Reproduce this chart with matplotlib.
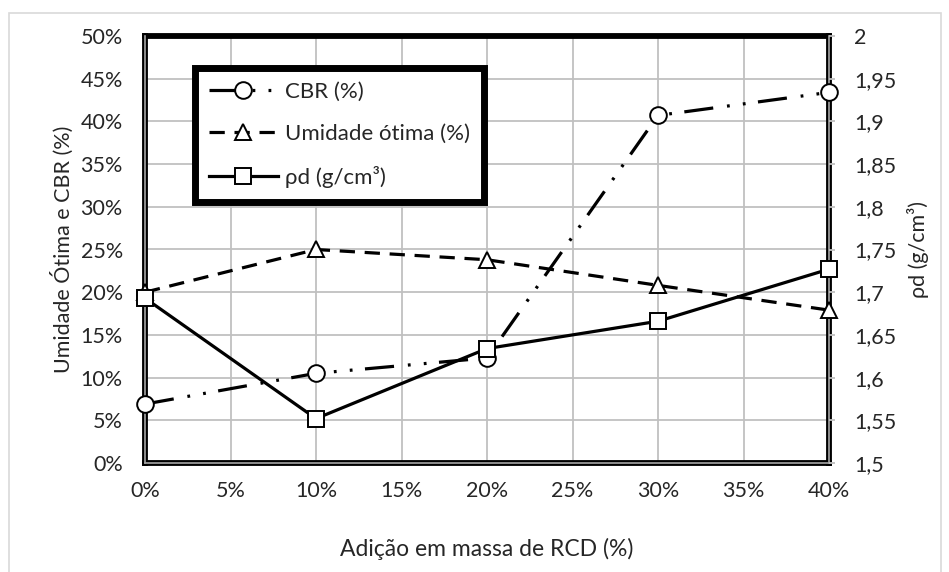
import matplotlib
matplotlib.use('Agg')
import matplotlib.pyplot as plt
from matplotlib.patches import Rectangle
from matplotlib.ticker import FuncFormatter, MultipleLocator

plt.rcParams['font.family'] = ['Lato', 'DejaVu Sans']
plt.rcParams['lines.scale_dashes'] = False

# data
rcd = [0, 10, 20, 30, 40]                       # % RCD added
cbr = [6.9, 10.5, 12.3, 40.7, 43.4]             # CBR (%)
umidade = [20.0, 25.0, 23.8, 20.8, 17.9]        # umidade otima (%)
rho_d = [1.693, 1.552, 1.634, 1.666, 1.727]     # g/cm3

fig = plt.figure(figsize=(9.49, 5.72), dpi=100)
W, H = 949, 572
ax = fig.add_axes([145 / W, 1 - 463 / H, 684 / W, 427 / H])
ax2 = ax.twinx()

# outer chart frame
fig.patches.append(Rectangle((9 / W, -0.05), 932 / W, 1 - 13 / H + 0.05,
                             transform=fig.transFigure, fill=False,
                             edgecolor='#d9d9d9', lw=1.2))

ax.set_xlim(0, 40)
ax.set_ylim(0, 50)
ax2.set_ylim(1.5, 2.0)
ax.xaxis.set_major_locator(MultipleLocator(5))
ax.yaxis.set_major_locator(MultipleLocator(5))
ax2.yaxis.set_major_locator(MultipleLocator(0.05))
ax.xaxis.set_major_formatter(FuncFormatter(lambda v, p: f'{v:.0f}%'))
ax.yaxis.set_major_formatter(FuncFormatter(lambda v, p: f'{v:.0f}%'))
ax2.yaxis.set_major_formatter(FuncFormatter(lambda v, p: f'{v:.2f}'.rstrip('0').rstrip('.').replace('.', ',')))

ax.grid(True, color='#c0c0c0', lw=1.3, zorder=0)
ax.set_axisbelow(True)

ax.tick_params(axis='both', length=0, labelsize=15.5, colors='#262626')
ax.tick_params(axis='y', pad=16)
ax.tick_params(axis='x', pad=13)
ax2.tick_params(axis='y', length=4, width=1.3, color='#bfbfbf', pad=14,
                labelsize=15.5, colors='#262626')

for s in ax.spines.values():
    s.set_linewidth(4.2)
    s.set_color('black')
    s.set_zorder(2.5)
for s in ax2.spines.values():
    s.set_visible(False)
# grey axis lines inside the black frame
ax.axvline(0, color='#a6a6a6', lw=1.2, zorder=2.6, clip_on=False)
ax.axvline(40, color='#a6a6a6', lw=1.2, zorder=2.6, clip_on=False)
ax.axhline(0, color='#a6a6a6', lw=1.2, zorder=2.6, clip_on=False)

l_cbr, = ax.plot(rcd, cbr, color='black', lw=2.3,
                 linestyle=(0, (21, 10, 2, 9.5, 2, 9)),
                 marker='o', ms=12, mfc='white', mec='black', mew=1.4,
                 label='CBR (%)', zorder=3, clip_on=False)
l_um, = ax.plot(rcd, umidade, color='black', lw=2.3,
                linestyle=(0, (11, 7)),
                marker='^', ms=12, mfc='white', mec='black', mew=1.4,
                label='Umidade ótima (%)', zorder=3, clip_on=False)
l_rho, = ax2.plot(rcd, rho_d, color='black', lw=2.3, linestyle='-',
                  marker='s', ms=11.5, mfc='white', mec='black', mew=1.4,
                  label='ρd (g/cm³)', zorder=3, clip_on=False)

ax.set_xlabel('Adição em massa de RCD (%)', fontsize=16.5, color='#262626')
ax.set_ylabel('Umidade Ótima e CBR (%)', fontsize=15.5, color='#262626')
ax2.set_ylabel('ρd (g/cm³)', fontsize=15.5, color='#262626')
ax.xaxis.set_label_coords(0.5, (463 - 549) / 427)
ax.xaxis.label.set_va('center')
ax.yaxis.set_label_coords((62 - 145) / 684, 0.5)
ax.yaxis.label.set_va('center')
ax2.yaxis.set_label_coords((918 - 145) / 684, 0.5)
ax2.yaxis.label.set_va('center')

leg = ax2.legend(handles=[l_cbr, l_um, l_rho], loc='upper left',
                 bbox_to_anchor=(195 / W, 1 - 68 / H),
                 bbox_transform=fig.transFigure, borderaxespad=0,
                 fontsize=16, frameon=True, fancybox=False, framealpha=1,
                 edgecolor='black', handlelength=3.1, handletextpad=0.32,
                 labelspacing=1.0, borderpad=0.62, numpoints=1)
leg.get_frame().set_linewidth(5)
for t in leg.get_texts():
    t.set_color('#262626')
leg.set_zorder(10)

fig.savefig('out.png', dpi=100)
